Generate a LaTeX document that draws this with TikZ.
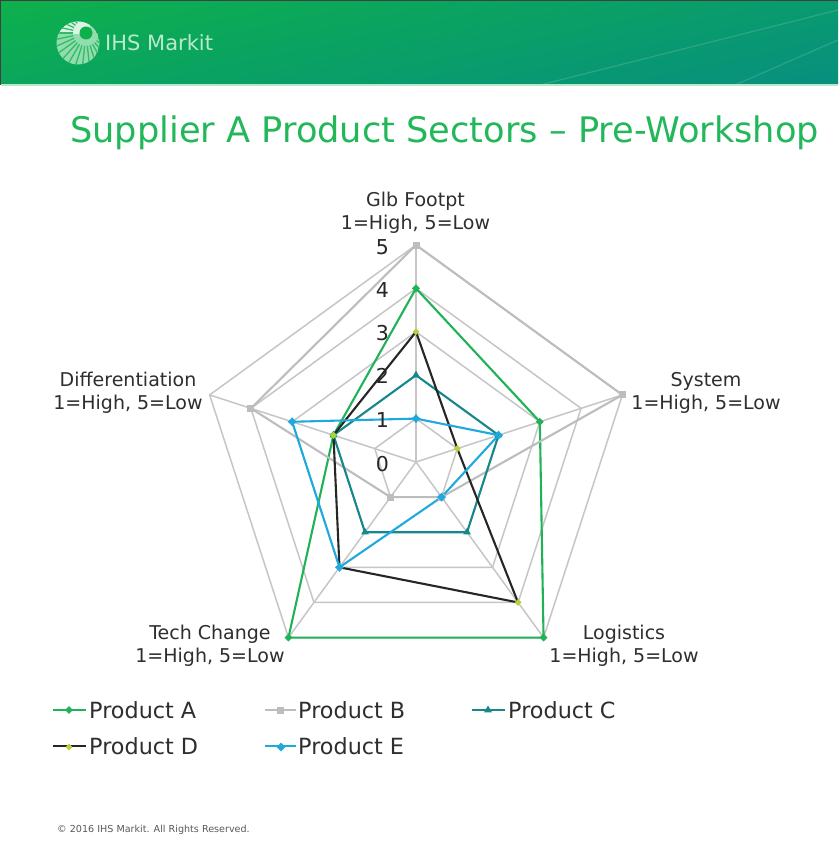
\documentclass[tikz,border=0pt]{standalone}
\usepackage{fontspec}
\setmainfont{DejaVu Sans}
\usetikzlibrary{shapes.geometric}
\definecolor{hdrA}{HTML}{0DB14B}
\definecolor{hdrM}{HTML}{0AA955}
\definecolor{hdrB}{HTML}{078F80}
\definecolor{titlegreen}{HTML}{22B85A}
\definecolor{gridgrey}{HTML}{C6C6C6}
\definecolor{prodA}{HTML}{1FB257}
\definecolor{prodB}{HTML}{BDBDBD}
\definecolor{prodC}{HTML}{16888C}
\definecolor{prodD}{HTML}{262626}
\definecolor{prodE}{HTML}{1FA9DC}
\definecolor{markD}{HTML}{B5D334}
\definecolor{txt}{HTML}{2E2E2E}
\tikzset{
  x=1pt,y=-1pt,
  grid line/.style={draw=gridgrey,line width=1.5pt,line join=miter},
  series/.style={line width=2.1pt,line join=round},
  axlabel/.style={font=\fontsize{19}{23}\selectfont,text=txt,align=center,inner sep=0pt},
  scalelabel/.style={font=\fontsize{20.5}{20}\selectfont,text=black!85,anchor=east,inner sep=0pt},
  legendtext/.style={font=\fontsize{22.3}{24}\selectfont,text=txt,anchor=west,inner sep=0pt},
  mkA/.style={draw=none,fill=prodA,diamond,minimum size=8pt,inner sep=0pt},
  mkB/.style={draw=none,fill=prodB,rectangle,minimum size=7pt,inner sep=0pt},
  mkC/.style={draw=none,fill=prodC,regular polygon,regular polygon sides=3,minimum size=9pt,inner sep=0pt},
  mkD/.style={draw=none,fill=markD,diamond,minimum size=7pt,inner sep=0pt},
  mkE/.style={draw=none,fill=prodE,star,star points=4,minimum size=9pt,inner sep=0pt},
}
\begin{document}
\begin{tikzpicture}
\useasboundingbox (0,0) rectangle (838,850);
\fill[white] (0,0) rectangle (838,850);
% header
\begin{scope}
  \clip (1,1) rectangle (838,85);
  \begin{scope}[transform canvas={shift={(419,43)},rotate=-78}]
    \shade[left color=hdrA,middle color=hdrM,right color=hdrB] (-130,-600) rectangle (130,600);
  \end{scope}
  \draw[white,opacity=.14,line width=1.2pt] (540,85) -- (838,10);
  \draw[white,opacity=.14,line width=1.2pt] (735,85) -- (838,40);
\end{scope}
\draw[black!75,line width=1pt] (0,0.5) -- (838,0.5);
\draw[black!75,line width=1pt] (0.5,0) -- (0.5,85);
\fill[white!70!hdrA] (1,84.5) rectangle (838,86);
% logo
\begin{scope}
  \clip (78,43) circle (21.5);
  \fill[white!55!hdrA] (78,43) circle (21.5);
  \fill[white!85!hdrA] (60,20) rectangle (90,34);
  \foreach \a in {0,12,...,240}{
    \draw[hdrA!85!white,line width=1.3pt] (86,33) ++(\a:13) -- ++(\a:40);
  }
  \fill[hdrA] (86,33) circle (6.5);
\end{scope}
\node[anchor=west,inner sep=0pt,text=white!72!hdrA,font=\fontsize{21}{21}\selectfont] (logotext) at (105,43) {IHS Markit};
% title
\node[anchor=west,inner sep=0pt,text=titlegreen,font=\fontsize{35.2}{35}\selectfont] (title) at (70,132.5) {Supplier A Product Sectors – Pre-Workshop};
% radar grid
\begin{scope}[shift={(416,462)}]
  \coordinate (O) at (0,0);
  \foreach \i in {0,...,4}{
    \foreach \r in {1,...,5}{
      \pgfmathsetmacro{\ang}{72*\i-90}
      \pgfmathsetmacro{\rad}{43.4*\r}
      \coordinate (v\i-\r) at (\ang:\rad);
    }
  }
\end{scope}
\foreach \i in {0,...,4}{ \draw[grid line] (O) -- (v\i-5); }
\foreach \r in {1,...,5}{
  \draw[grid line] (v0-\r) -- (v1-\r) -- (v2-\r) -- (v3-\r) -- (v4-\r) -- cycle;
}
% series
\draw[series,prodA] (v0-4) -- (v1-3) -- (v2-5) -- (v3-5) -- (v4-2) -- cycle;
\draw[series,prodB] (v0-5) -- (v1-5) -- (v2-1) -- (v3-1) -- (v4-4) -- cycle;
\draw[series,prodC] (v0-2) -- (v1-2) -- (v2-2) -- (v3-2) -- (v4-2) -- cycle;
\draw[series,prodD] (v0-3) -- (v1-1) -- (v2-4) -- (v3-3) -- (v4-2) -- cycle;
\draw[series,prodE] (v0-1) -- (v1-2) -- (v2-1) -- (v3-3) -- (v4-3) -- cycle;
\foreach \p in {v0-4,v1-3,v2-5,v3-5,v4-2}{\node[mkA] at (\p) {};}
\foreach \p in {v0-5,v1-5,v2-1,v3-1,v4-4}{\node[mkB] at (\p) {};}
\foreach \p in {v0-2,v1-2,v2-2,v3-2,v4-2}{\node[mkC] at (\p) {};}
\foreach \p in {v0-3,v1-1,v2-4,v3-3,v4-2}{\node[mkD] at (\p) {};}
\foreach \p in {v0-1,v1-2,v2-1,v3-3,v4-3}{\node[mkE] at (\p) {};}
% scale
\node[scalelabel] (s0) at (389,464) {0};
\node[scalelabel] (s1) at (389,420) {1};
\node[scalelabel] (s2) at (389,376) {2};
\node[scalelabel] (s3) at (389,333) {3};
\node[scalelabel] (s4) at (389,290) {4};
\node[scalelabel] (s5) at (389,247) {5};
% axis labels
\node[axlabel] (lab0) at (415.5,213) {Glb Footpt\\1=High, 5=Low};
\node[axlabel] (lab1) at (706,393) {System\\1=High, 5=Low};
\node[axlabel] (lab2) at (624,646) {Logistics\\1=High, 5=Low};
\node[axlabel] (lab3) at (210,646) {Tech Change\\1=High, 5=Low};
\node[axlabel] (lab4) at (128,393) {Differentiation\\1=High, 5=Low};
% legend
\coordinate (la1) at (53,710); \coordinate (la2) at (86,710);
\coordinate (lb1) at (265,710); \coordinate (lb2) at (296,710);
\coordinate (lc1) at (472,710); \coordinate (lc2) at (505,710);
\coordinate (ld1) at (53,746); \coordinate (ld2) at (86,746);
\coordinate (le1) at (265,746); \coordinate (le2) at (296,746);
\draw[series,prodA] (la1) -- (la2); \node[mkA] at (69,710) {};
\draw[series,prodB] (lb1) -- (lb2); \node[mkB] at (280,710) {};
\draw[series,prodC] (lc1) -- (lc2); \node[mkC] at (488,710) {};
\draw[series,prodD] (ld1) -- (ld2); \node[mkD] at (69,747) {};
\draw[series,prodE] (le1) -- (le2); \node[mkE] at (281,747) {};
\node[legendtext] (ta) at (89,710) {Product A};
\node[legendtext] (tb) at (298,710) {Product B};
\node[legendtext] (tc) at (508,710) {Product C};
\node[legendtext] (td) at (89,746) {Product D};
\node[legendtext] (te) at (298,746) {Product E};
% footer
\node[anchor=west,inner sep=0pt,text=black!65,font=\fontsize{9.6}{10}\selectfont] (copy) at (57,830) {© 2016 IHS Markit. All Rights Reserved.};
\end{tikzpicture}
\end{document}
